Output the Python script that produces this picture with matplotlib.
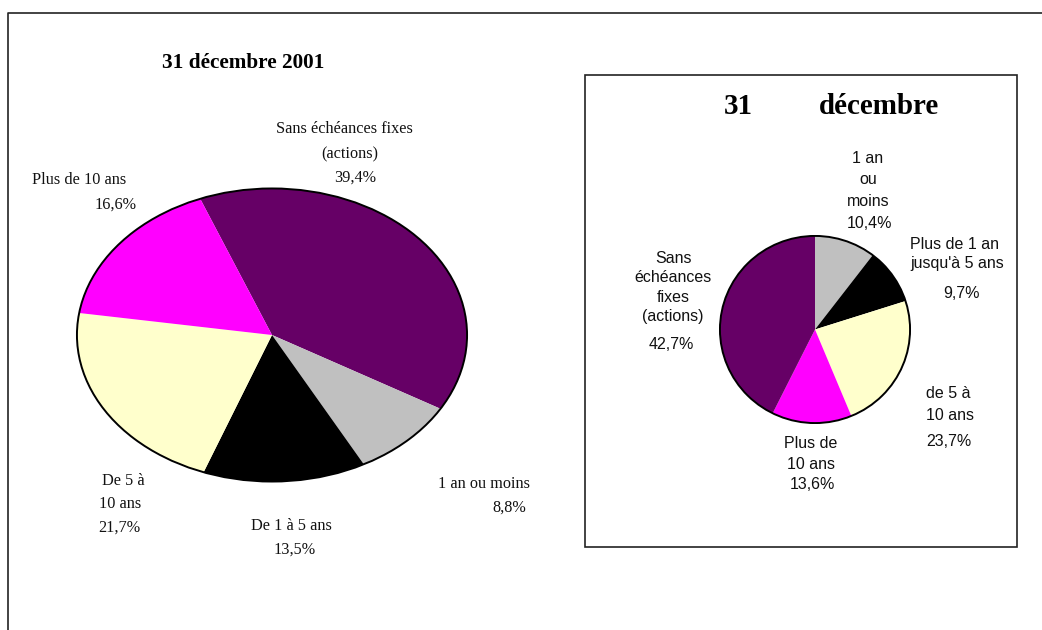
import matplotlib
matplotlib.use("Agg")
import matplotlib.pyplot as plt
from matplotlib.patches import Circle, Rectangle
from matplotlib.lines import Line2D

W, H = 1042, 630

# maturity buckets and their fill colours
categories = ["sans", "1an", "1a5", "5a10", "plus10"]
colors = {"sans": "#660066", "1an": "#C0C0C0", "1a5": "#000000",
          "5a10": "#FFFFCC", "plus10": "#FF00FF"}

# 31 décembre 2001
keys_2001 = ["sans", "1an", "1a5", "5a10", "plus10"]
names_2001 = ["Sans échéances fixes\n(actions)", "1 an ou moins", "De 1 à 5 ans",
              "De 5 à\n10 ans", "Plus de 10 ans"]
vals_2001 = [39.4, 8.8, 13.5, 21.7, 16.6]

# second date (title cut off after "décembre")
keys_b = ["1an", "1a5", "5a10", "plus10", "sans"]
names_b = ["1 an\nou\nmoins", "Plus de 1 an\njusqu'à 5 ans", "de 5 à\n10 ans",
           "Plus de\n10 ans", "Sans\néchéances\nfixes\n(actions)"]
vals_b = [10.4, 9.7, 23.7, 13.6, 42.7]


def pct(v):
    return f"{v:.1f}%".replace(".", ",")


def px_axes(fig, x0, y0, x1, y1):
    return fig.add_axes([x0 / W, 1 - y1 / H, (x1 - x0) / W, (y1 - y0) / H])


def draw_pie(ax, vals, keys, start):
    wedges, _ = ax.pie(vals, colors=[colors[k] for k in keys], startangle=start,
                       counterclock=False, radius=1,
                       wedgeprops=dict(linewidth=0))
    ax.add_patch(Circle((0, 0), 1, fill=False, lw=1.4, ec="black"))
    ax.set_aspect("auto")
    ax.set_xlim(-1.01, 1.01)
    ax.set_ylim(-1.01, 1.01)
    ax.axis("off")


def put_label(ax, name, value, spots, ha="center", **kw):
    lines = name.split("\n") + [pct(value)]
    for text, (x, y) in zip(lines, spots):
        ax.text(x, y, text, ha=ha, va="center_baseline", **kw)


fig = plt.figure(figsize=(W / 100, H / 100), dpi=100)

# overlay in pixel coordinates for frames and text
over = fig.add_axes([0, 0, 1, 1])
over.set_xlim(0, W)
over.set_ylim(H, 0)
over.axis("off")
over.add_line(Line2D([8, 8, W], [H, 13, 13], color="#222222", lw=1.2))
over.add_patch(Rectangle((585, 75), 432, 472, fill=False, ec="#222222", lw=1.2))

serif = dict(family="Liberation Serif", fontsize=11.7, color="#111111")
sans = dict(family="Liberation Sans", fontsize=11.5, color="#111111")

# left chart
over.text(243.5, 60, "31 décembre 2001", ha="center", va="center_baseline",
          family="Liberation Serif", fontsize=15.3, fontweight="bold")
ax1 = px_axes(fig, 75, 187, 469, 483)
draw_pie(ax1, vals_2001, keys_2001, 111.6)

spots_2001 = [
    [(344.5, 127), (350, 152), (355.5, 176)],
    [(484, 482), (509, 506)],
    [(291, 524), (294.5, 548)],
    [(101.5, 479), (99.3, 502), (98.3, 526)],
    [(79.5, 178), (116, 203)],
]
for i, k in enumerate(keys_2001):
    put_label(over, names_2001[i], vals_2001[i], spots_2001[i],
              ha="left" if k == "5a10" else "center", **serif)

# right chart
over.text(738.5, 103, "31", ha="center", va="center_baseline",
          family="Liberation Serif", fontsize=20.9, fontweight="bold")
over.text(878.5, 103, "décembre", ha="center", va="center_baseline",
          family="Liberation Serif", fontsize=20.9, fontweight="bold")
ax2 = px_axes(fig, 719, 235, 911, 424)
draw_pie(ax2, vals_b, keys_b, 90)

spots_b = [
    [(868, 157), (868, 178), (868, 200), (869, 222)],
    [(955, 243), (957, 262), (961, 292)],
    [(926.5, 392), (926.5, 414), (926.5, 440)],
    [(811, 442), (811, 463), (812, 483)],
    [(674, 257), (673, 276), (673, 296), (673, 315), (671.5, 343)],
]
for i, k in enumerate(keys_b):
    put_label(over, names_b[i], vals_b[i], spots_b[i],
              ha="left" if k == "5a10" else "center", **sans)

fig.savefig("out.png", dpi=100)
